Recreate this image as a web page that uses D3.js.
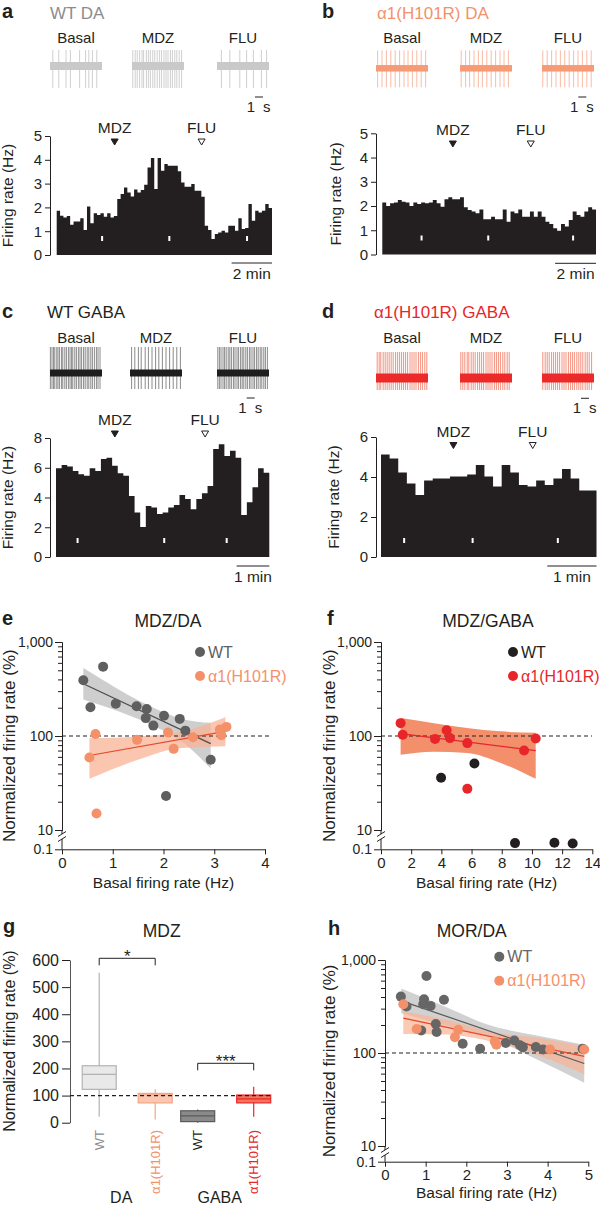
<!DOCTYPE html>
<html><head><meta charset="utf-8">
<script src="https://cdn.jsdelivr.net/npm/d3@7"></script>
<style>
body{margin:0;background:#fff}
svg{display:block;font-family:"Liberation Sans",Arial,Helvetica,sans-serif}
</style></head><body>
<svg id="fig" width="600" height="1207"></svg>
<script>
// ---------- data ----------
// firing-rate histograms (Hz per bin)
const histA = [1.86,1.65,1.58,1.64,1.27,1.41,1.41,1.54,1.05,2.04,1.33,1.75,1.68,1.75,1.61,1.75,1.58,1.64,2.35,2.56,2.84,2.63,2.46,2.75,2.63,2.73,2.95,3.68,4.08,2.77,4.08,3.54,3.82,3.75,3.75,3.75,3.52,3.05,2.87,2.87,2.98,2.70,2.70,2.45,1.23,1.05,0.67,0.88,0.95,1.02,0.95,1.23,1.23,1.02,1.54,1.09,1.13,2.14,1.44,1.86,1.79,1.86,2.14,1.97];
const histB = [2.15,2.0,2.11,2.15,2.25,2.18,2.15,2.0,2.15,2.08,2.15,2.11,2.15,2.25,2.11,1.97,2.28,2.36,2.28,2.28,2.36,1.95,1.84,1.77,1.70,1.86,1.45,1.45,1.56,1.45,1.45,1.86,1.35,1.77,1.70,1.86,1.56,1.56,1.77,1.56,1.77,1.56,1.35,1.26,1.08,0.98,1.26,1.15,1.42,1.77,1.63,1.56,1.77,1.95,1.86];
const histC = [5.96,6.19,6.08,5.78,5.56,5.47,5.96,5.78,6.59,6.68,6.14,5.63,5.47,4.10,3.0,2.02,3.43,3.32,2.89,3.0,3.32,3.50,4.17,3.90,3.21,3.90,4.28,4.78,7.26,7.58,6.79,7.15,6.68,2.83,3.68,4.69,5.96,5.67];
const histD = [5.13,4.93,4.22,3.68,3.10,3.82,3.93,3.93,4.02,4.02,4.13,4.6,4.02,3.52,4.6,4.22,3.6,3.52,3.82,3.6,3.93,4.4,3.93,3.32,3.32];
const binSecA = 10, binSecB = 11.4, binSecC = 10.3, binSecD = 10.5;
// drug application times (min) [MDZ, FLU] and trace sample times (min)
const drugNames = ['MDZ', 'FLU'];
const drugsA = [2.87, 7.18], drugsB = [3.45, 7.26], drugsC = [1.80, 4.56], drugsD = [1.47, 3.08];
const marksA = [2.25, 5.58, 9.43], marksB = [1.92, 5.18, 9.33], marksC = [0.66, 3.31, 5.22], marksD = [0.47, 1.86, 3.59];

// example traces: spike times (s) within 6.5 s windows
const traceLabels = ['Basal', 'MDZ', 'FLU'];
const traceSec = 6.5;
const spikesA = [
  [0.35,1.1,2.0,2.55,3.7,4.45,4.85,5.3,5.85],
  [0.1,0.4,0.65,0.95,1.25,1.45,1.8,2.05,2.3,2.6,2.85,3.15,3.45,3.7,4.0,4.25,4.5,4.8,5.05,5.35,5.6,5.9,6.2],
  [0.55,1.6,2.85,3.7,4.55,5.55,6.2]];
const spikesB = [
  [0.2,0.75,1.3,1.85,2.4,2.95,3.5,4.0,4.55,5.1,5.65,6.2],
  [0.15,0.7,1.2,1.75,2.3,2.8,3.35,3.9,4.45,5.0,5.5,6.05],
  [0.1,0.65,1.2,1.75,2.3,2.85,3.4,3.95,4.5,5.05,5.6,6.15]];
const spikesC = [
  [0.05,0.25,0.45,0.6,0.85,1.0,1.2,1.45,1.6,1.85,2.05,2.3,2.5,2.7,2.85,3.1,3.3,3.55,3.75,3.95,4.2,4.4,4.65,4.85,5.1,5.3,5.55,5.8,6.0,6.25],
  [0.2,0.6,1.05,1.4,1.9,2.3,2.75,3.2,3.6,4.05,4.5,4.95,5.4,5.85,6.3],
  [0.1,0.3,0.5,0.75,0.95,1.15,1.4,1.6,1.8,2.05,2.25,2.5,2.7,2.95,3.15,3.35,3.6,3.8,4.05,4.25,4.5,4.7,4.95,5.15,5.4,5.6,5.85,6.05,6.3]];
const spikesD = [
  [0.15,0.4,0.6,0.9,1.15,1.4,1.65,1.9,2.15,2.45,2.7,2.95,3.2,3.45,3.7,3.95,4.25,4.5,4.75,5.0,5.3,5.55,5.8,6.1,6.35],
  [0.1,0.35,0.6,0.9,1.1,1.4,1.65,1.9,2.2,2.45,2.7,2.95,3.25,3.5,3.75,4.0,4.3,4.55,4.8,5.05,5.35,5.6,5.9,6.15],
  [0.1,0.4,0.65,0.9,1.2,1.45,1.7,1.95,2.2,2.5,2.75,3.0,3.3,3.55,3.8,4.05,4.35,4.6,4.85,5.1,5.4,5.65,5.9,6.2]];

// scatter panels: basal rate (Hz) vs normalized rate (%)
const eWtX = [0.42,0.81,0.56,1.06,1.47,1.67,1.65,1.80,2.01,2.32,2.43,2.93,2.05];
const eWtY = [391,547,202,221,207,194,155,129,164,152,114,56,23];
const eMutX = [0.66,0.54,0.68,1.48,2.09,2.2,2.58,3.11,3.14,3.24];
const eMutY = [105,59,15,91,109,73,97,117,102,125];
const eWtFitX = [0.42, 2.93], eWtFitY = [360, 83];
const eWtBandX = [0.42,1.0,1.7,2.4,2.93], eWtBandLo = [245,193,136,84,45], eWtBandHi = [528,341,212,150,138];
const eMutFitX = [0.54, 3.22], eMutFitY = [62, 112];
const eMutBandX = [0.54,1.5,2.3,3.22], eMutBandLo = [35,56,74,78], eMutBandHi = [95,99,109,158];

const fWtX = [3.98,6.19,8.88,11.49,12.7];
const fWtY = [36,51,0.3,0.32,0.28];
const fMutX = [1.30,1.44,3.58,4.35,4.57,5.72,5.72,9.48,10.25];
const fMutY = [137,103,93,115,95,84,27.5,70,94];
const fMutFitX = [1.3, 10.25], fMutFitY = [106, 70];
const fMutBandX = [1.3,3.5,5.7,7.9,10.25], fMutBandLo = [63,68,66,52,35], fMutBandHi = [155,137,122,112,108];

const hWtX = [0.39,0.53,1.02,0.96,0.94,1.12,1.45,1.25,1.27,0.89,1.91,2.34,2.97,3.18,3.32,3.39,3.71,3.89,4.86];
const hWtY = [404,316,674,379,335,321,373,205,168,175,126,111,128,136,121,115,116,109,111];
const hMutX = [0.45,0.78,1.80,1.72,2.70,2.74,4.06,4.9];
const hMutY = [335,181,178,148,133,123,109,109];
const hWtFitX = [0.4, 4.9], hWtFitY = [364, 77];
const hWtBandX = [0.4,1.5,2.5,3.7,4.9], hWtBandLo = [268,198,152,87,48], hWtBandHi = [493,313,204,155,123];
const hMutFitX = [0.45, 4.9], hMutFitY = [237, 92];
const hMutBandX = [0.45,1.5,2.7,3.9,4.9], hMutBandLo = [160,158,130,90,59], hMutBandHi = [279,228,166,143,118];

// box plot (g)
const boxGroup = ['DA','DA','GABA','GABA'];
const boxGeno = ['WT','α1(H101R)','WT','α1(H101R)'];
const boxMin = [22,12,0,22], boxQ1 = [123,73,4,73], boxMed = [178,103,25,88], boxQ3 = [210,108,44,102], boxMax = [553,123,49,133];

// ---------- drawing ----------
const svg = d3.select('#fig');
const INK = '#231f20', GREY = '#8c8c8c', SALMON = '#f4916b', RED = '#e8262a';

function text(x, y, s, size, fill, anchor, weight) {
  return svg.append('text').attr('x', x).attr('y', y).attr('font-size', size)
    .attr('fill', fill || INK).attr('text-anchor', anchor || 'start')
    .attr('font-weight', weight || 'normal').text(s);
}
function vlabel(x, yc, s, size) {
  svg.append('text').attr('transform', `translate(${x},${yc}) rotate(-90)`)
    .attr('text-anchor', 'middle').attr('dy', '0.35em').attr('font-size', size).attr('fill', INK).text(s);
}
function styleAxis(sel, size) {
  sel.attr('font-family', null).attr('font-size', size);
  sel.selectAll('path,line').attr('stroke', INK).attr('stroke-width', 1);
  sel.selectAll('text').attr('fill', INK);
}

function histPanel(p) {
  const dur = p.vals.length * p.binSec / 60;
  const x = d3.scaleLinear().domain([0, dur]).range([p.x0, p.x1]);
  const y = d3.scaleLinear().domain([0, p.yMax]).range([p.base, p.top]);
  const steps = p.vals.map((v, i) => [i * p.binSec / 60, v]).concat([[dur, p.vals[p.vals.length - 1]]]);
  svg.append('path').datum(steps).attr('fill', INK)
    .attr('d', d3.area().curve(d3.curveStepAfter).x(d => x(d[0])).y0(y(0)).y1(d => y(d[1])));
  svg.selectAll(null).data(p.marks).enter().append('rect')
    .attr('x', d => x(d) - 1).attr('y', p.base - 19).attr('width', 2).attr('height', 5).attr('fill', '#fff');
  const ax = svg.append('g').attr('transform', `translate(${p.axisX},0)`)
    .call(d3.axisLeft(y).tickValues(p.ticks).tickSize(5).tickSizeOuter(0).tickPadding(3).tickFormat(d3.format('d')));
  styleAxis(ax, 15);
  vlabel(p.labelX, (p.base + p.top) / 2, 'Firing rate (Hz)', 15.5);
  p.drugs.forEach((t, i) => {
    const cx = x(t);
    text(cx, p.drugY, drugNames[i], 15.5, INK, 'middle');
    svg.append('path').attr('d', `M${cx - 3.5},${p.drugY + 6}L${cx + 3.5},${p.drugY + 6}L${cx},${p.drugY + 12}Z`)
      .attr('fill', i === 0 ? INK : '#fff').attr('stroke', INK).attr('stroke-width', 1);
  });
  const b0 = x(dur - p.barMin), b1 = x(dur);
  svg.append('line').attr('x1', b0).attr('x2', b1).attr('y1', p.barY).attr('y2', p.barY).attr('stroke', INK);
  text((b0 + b1) / 2, p.barY + 16, p.barMin + ' min', 15.5, INK, 'middle');
}

function tracePanel(p) {
  const traceW = 52;
  p.sets.forEach((times, i) => {
    const tx = d3.scaleLinear().domain([0, traceSec]).range([p.xs[i], p.xs[i] + traceW]);
    text(p.xs[i] + traceW / 2, p.labelY, traceLabels[i], 15, INK, 'middle');
    svg.selectAll(null).data(times).enter().append('line')
      .attr('x1', d => tx(d)).attr('x2', d => tx(d))
      .attr('y1', p.yc - p.up).attr('y2', p.yc + p.down)
      .attr('stroke', p.spike).attr('stroke-width', 0.9);
    svg.append('rect').attr('x', p.xs[i]).attr('y', p.yc - p.bandH / 2)
      .attr('width', traceW).attr('height', p.bandH).attr('fill', p.band);
    if (i === 2) {
      const s0 = p.sbX, s1 = p.sbX + (tx(1) - tx(0));
      svg.append('line').attr('x1', s0).attr('x2', s1).attr('y1', p.sbY).attr('y2', p.sbY).attr('stroke', INK);
      text(s0, p.sbY + 15, '1', 15, INK, 'end');
      text(s1, p.sbY + 15, 's', 15, INK, 'start');
    }
  });
}

function logPanel(p) {
  const x = d3.scaleLinear().domain([0, p.xMax]).range([p.axisX, p.xRight]);
  const y = d3.scaleLog().domain([10, 1000]).range([p.y10, p.y1000]);
  const yLow = d3.scaleLog().domain([0.1, 1]).range([p.y01, p.y01 - 13]);
  const Y = v => v >= 10 ? y(v) : yLow(v);

  // confidence bands
  p.bands.forEach(b => {
    const pts = b.x.map((v, i) => [v, b.lo[i], b.hi[i]]);
    svg.append('path').datum(pts).attr('fill', b.color).attr('fill-opacity', b.opacity)
      .attr('d', d3.area().curve(d3.curveMonotoneX).x(d => x(d[0])).y0(d => Y(d[1])).y1(d => Y(d[2])));
  });
  // reference line
  svg.append('line').attr('x1', p.axisX).attr('x2', p.dashRight).attr('y1', y(100)).attr('y2', y(100))
    .attr('stroke', INK).attr('stroke-width', 1.1).attr('stroke-dasharray', '4,3');
  // fit lines
  p.fits.forEach(f => {
    svg.append('path').datum(f.x.map((v, i) => [v, f.y[i]])).attr('fill', 'none')
      .attr('stroke', f.color).attr('stroke-width', 1.2)
      .attr('d', d3.line().x(d => x(d[0])).y(d => Y(d[1])));
  });
  // points
  p.series.forEach(s => {
    svg.selectAll(null).data(s.x.map((v, i) => [v, s.y[i]])).enter().append('circle')
      .attr('cx', d => x(d[0])).attr('cy', d => Y(d[1])).attr('r', 5).attr('fill', s.color);
  });

  // y axis: major + minor ticks
  const minor = [20,30,40,50,60,70,80,90,200,300,400,500,600,700,800,900];
  const axMin = svg.append('g').attr('transform', `translate(${p.axisX},0)`)
    .call(d3.axisLeft(y).tickValues(minor).tickSize(4).tickSizeOuter(0).tickFormat(''));
  styleAxis(axMin, 13);
  const axMaj = svg.append('g').attr('transform', `translate(${p.axisX},0)`)
    .call(d3.axisLeft(y).tickValues([10, 100, 1000]).tickSize(7).tickSizeOuter(0).tickPadding(2).tickFormat(d3.format(',')));
  styleAxis(axMaj, 14);
  const yb = p.y10 + 6;
  svg.append('line').attr('x1', p.axisX).attr('x2', p.axisX).attr('y1', p.y10).attr('y2', yb - 2).attr('stroke', INK);
  svg.append('line').attr('x1', p.axisX).attr('x2', p.axisX).attr('y1', yb + 3).attr('y2', p.y01).attr('stroke', INK);
  [yb - 2, yb + 3].forEach(v => svg.append('line').attr('x1', p.axisX - 4).attr('x2', p.axisX + 4)
    .attr('y1', v + 2.5).attr('y2', v - 2.5).attr('stroke', INK));
  const axLow = svg.append('g').attr('transform', `translate(${p.axisX},0)`)
    .call(d3.axisLeft(yLow).tickValues([0.1]).tickSize(7).tickSizeOuter(0).tickPadding(2).tickFormat(d3.format('.1f')));
  axLow.select('.domain').remove();
  styleAxis(axLow, 14);
  // x axis
  const axX = svg.append('g').attr('transform', `translate(0,${p.y01})`)
    .call(d3.axisBottom(x).tickValues(p.xTicks).tickSize(5).tickSizeOuter(0).tickPadding(3).tickFormat(d3.format('d')));
  styleAxis(axX, 15);

  text((p.axisX + p.xRight) / 2, p.xLabelY, 'Basal firing rate (Hz)', 15.5, INK, 'middle');
  vlabel(p.yLabelX, (p.y1000 + p.y01) / 2, 'Normalized firing rate (%)', 17);
  text(p.titleX, p.titleY, p.title, 17.5, INK, 'middle');
  // legend
  p.series.forEach((s, i) => {
    svg.append('circle').attr('cx', p.legX).attr('cy', p.legY + i * 24).attr('r', 5).attr('fill', s.color);
    text(p.legX + 8, p.legY + i * 24 + 5.5, s.name, 16, s.textColor);
  });
}

function boxPanel() {
  const y = d3.scaleLinear().domain([0, 600]).range([1122.7, 960]);
  const outer = d3.scalePoint().domain(['DA', 'GABA']).range([127.2, 225.7]);
  const inner = d3.scalePoint().domain(['WT', 'α1(H101R)']).range([-28, 28]);
  const cx = i => outer(boxGroup[i]) + inner(boxGeno[i]);
  const fills = ['#e9e9e9', '#fbc7b1', '#8a8a8a', '#f4735b'];
  const strokes = ['#b2b2b2', '#f4a582', '#5a5a5a', RED];
  const labelCols = [GREY, SALMON, INK, RED];
  const bw = 34;

  const ax = svg.append('g').attr('transform', 'translate(70,0)')
    .call(d3.axisLeft(y).tickValues([0,100,200,300,400,500,600]).tickSize(8).tickSizeOuter(0).tickPadding(3));
  styleAxis(ax, 16);
  ax.select('.domain').attr('stroke', '#555');

  boxGroup.forEach((gname, i) => {
    const c = cx(i);
    svg.append('line').attr('x1', c).attr('x2', c).attr('y1', y(boxMin[i])).attr('y2', y(boxMax[i]))
      .attr('stroke', strokes[i]).attr('stroke-width', 1.2);
    svg.append('rect').attr('x', c - bw / 2).attr('y', y(boxQ3[i])).attr('width', bw)
      .attr('height', y(boxQ1[i]) - y(boxQ3[i])).attr('fill', fills[i]).attr('stroke', strokes[i]).attr('stroke-width', 1.2);
    svg.append('line').attr('x1', c - bw / 2).attr('x2', c + bw / 2).attr('y1', y(boxMed[i])).attr('y2', y(boxMed[i]))
      .attr('stroke', strokes[i]).attr('stroke-width', 1.2);
    svg.append('text').attr('transform', `translate(${c},1130) rotate(-90)`).attr('text-anchor', 'end')
      .attr('dy', '0.35em').attr('font-size', 13).attr('fill', labelCols[i]).text(boxGeno[i]);
  });
  svg.append('line').attr('x1', 70).attr('x2', 272).attr('y1', y(100)).attr('y2', y(100))
    .attr('stroke', INK).attr('stroke-width', 1.1).attr('stroke-dasharray', '4,3');

  // significance brackets
  [[0, 1, 958.3, '*'], [2, 3, 1063.3, '***']].forEach(([a, b, yy, s]) => {
    svg.append('path').attr('d', `M${cx(a)},${yy + 7}V${yy}H${cx(b)}V${yy + 7}`)
      .attr('fill', 'none').attr('stroke', INK);
    text((cx(a) + cx(b)) / 2, yy + 4, s, 17, INK, 'middle');
  });
  outer.domain().forEach(gname => text(outer(gname) - 6, 1203, gname, 16, INK, 'middle'));
  vlabel(9, 1041, 'Normalized firing rate (%)', 16);
  text(161.7, 937, 'MDZ', 17.5, INK, 'middle');
}

// ----- panels a-d -----
text(2, 18, 'a', 20, INK, 'start', 'bold');
text(50, 19, 'WT DA', 17, GREY);
tracePanel({ sets: spikesA, xs: [50, 132, 217], yc: 66, bandH: 8, up: 16, down: 22,
  band: '#c9c9c9', spike: '#c9c9c9', labelY: 43, sbX: 255, sbY: 97 });
histPanel({ vals: histA, binSec: binSecA, x0: 56.7, x1: 272, base: 255, top: 136, yMax: 5,
  ticks: [0,1,2,3,4,5], axisX: 50, labelX: 8, drugs: drugsA, drugY: 133, marks: marksA, barMin: 2, barY: 263 });

text(322, 18, 'b', 20, INK, 'start', 'bold');
text(377, 19, 'α1(H101R) DA', 17, SALMON);
tracePanel({ sets: spikesB, xs: [376, 460, 542], yc: 68.3, bandH: 6.5, up: 18, down: 19,
  band: '#f79a76', spike: '#f9b49a', labelY: 43, sbX: 578.3, sbY: 97 });
histPanel({ vals: histB, binSec: binSecB, x0: 382.3, x1: 596, base: 254.5, top: 133.3, yMax: 5,
  ticks: [0,1,2,3,4,5], axisX: 376, labelX: 336, drugs: drugsB, drugY: 135, marks: marksB, barMin: 2, barY: 263.3 });

text(2, 318, 'c', 20, INK, 'start', 'bold');
text(47, 318, 'WT GABA', 17, INK);
tracePanel({ sets: spikesC, xs: [50, 130, 217], yc: 373, bandH: 7, up: 26, down: 16,
  band: '#1e1e1e', spike: '#7d7d7d', labelY: 343, sbX: 246.7, sbY: 398 });
histPanel({ vals: histC, binSec: binSecC, x0: 56, x1: 269.3, base: 557, top: 438, yMax: 8,
  ticks: [0,2,4,6,8], axisX: 50, labelX: 8, drugs: drugsC, drugY: 425, marks: marksC, barMin: 1, barY: 566 });

text(322, 318, 'd', 20, INK, 'start', 'bold');
text(374, 318, 'α1(H101R) GABA', 17, RED);
tracePanel({ sets: spikesD, xs: [376, 460, 542], yc: 378, bandH: 9, up: 26, down: 12,
  band: '#ec2a2a', spike: '#f2846f', labelY: 343, sbX: 581, sbY: 398.3 });
histPanel({ vals: histD, binSec: binSecD, x0: 381, x1: 596.5, base: 557, top: 437, yMax: 6,
  ticks: [0,2,4,6], axisX: 376, labelX: 334, drugs: drugsD, drugY: 436.5, marks: marksD, barMin: 1, barY: 566 });

// ----- panels e, f, h -----
text(2, 625, 'e', 20, INK, 'start', 'bold');
logPanel({ axisX: 62, xRight: 265, xMax: 4, xTicks: [0,1,2,3,4], y1000: 642, y10: 830, y01: 849.3, dashRight: 270,
  xLabelY: 888, yLabelX: 9, title: 'MDZ/DA', titleX: 168, titleY: 627, legX: 200, legY: 652,
  bands: [{ x: eWtBandX, lo: eWtBandLo, hi: eWtBandHi, color: '#bdbdbd', opacity: 0.75 },
          { x: eMutBandX, lo: eMutBandLo, hi: eMutBandHi, color: '#f8b395', opacity: 0.75 }],
  fits: [{ x: eWtFitX, y: eWtFitY, color: '#4d4d4d' }, { x: eMutFitX, y: eMutFitY, color: '#e8462a' }],
  series: [{ name: 'WT', x: eWtX, y: eWtY, color: '#5f5f5f', textColor: '#5f5f5f' },
           { name: 'α1(H101R)', x: eMutX, y: eMutY, color: SALMON, textColor: SALMON }] });

text(327, 625, 'f', 20, INK, 'start', 'bold');
logPanel({ axisX: 381, xRight: 592.3, xMax: 14, xTicks: [0,2,4,6,8,10,12,14], y1000: 642, y10: 830, y01: 849.3, dashRight: 592,
  xLabelY: 888, yLabelX: 329, title: 'MDZ/GABA', titleX: 488, titleY: 627, legX: 513, legY: 652,
  bands: [{ x: fMutBandX, lo: fMutBandLo, hi: fMutBandHi, color: '#f2835b', opacity: 0.9 }],
  fits: [{ x: fMutFitX, y: fMutFitY, color: RED }],
  series: [{ name: 'WT', x: fWtX, y: fWtY, color: INK, textColor: INK },
           { name: 'α1(H101R)', x: fMutX, y: fMutY, color: RED, textColor: RED }] });

text(3, 933, 'g', 20, INK, 'start', 'bold');
boxPanel();

text(328, 935, 'h', 20, INK, 'start', 'bold');
logPanel({ axisX: 385, xRight: 588.3, xMax: 5, xTicks: [0,1,2,3,4,5], y1000: 960, y10: 1146, y01: 1161.7, dashRight: 587,
  xLabelY: 1198, yLabelX: 329, title: 'MOR/DA', titleX: 471.7, titleY: 937, legX: 499.3, legY: 956.7,
  bands: [{ x: hWtBandX, lo: hWtBandLo, hi: hWtBandHi, color: '#bdbdbd', opacity: 0.7 },
          { x: hMutBandX, lo: hMutBandLo, hi: hMutBandHi, color: '#f8b395', opacity: 0.7 }],
  fits: [{ x: hWtFitX, y: hWtFitY, color: '#5a5a5a' }, { x: hMutFitX, y: hMutFitY, color: '#e8462a' }],
  series: [{ name: 'WT', x: hWtX, y: hWtY, color: '#666666', textColor: '#666666' },
           { name: 'α1(H101R)', x: hMutX, y: hMutY, color: SALMON, textColor: SALMON }] });
</script></body></html>
